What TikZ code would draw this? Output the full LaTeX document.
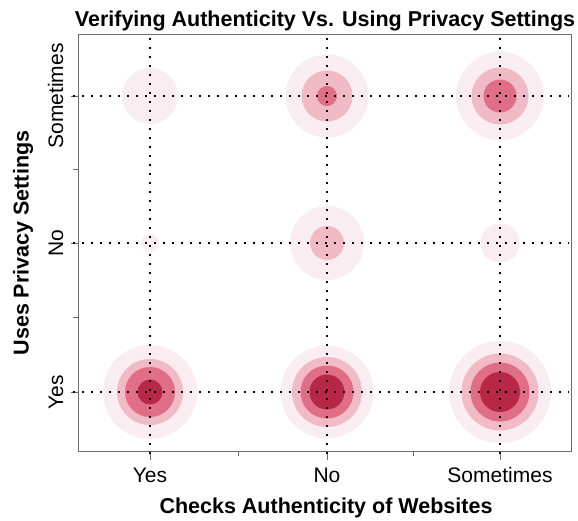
\documentclass[tikz,border=0pt]{standalone}
\usepackage{fontspec}
\setmainfont{Liberation Sans}
\definecolor{lvla}{RGB}{250,237,241}
\definecolor{lvlb}{RGB}{241,186,199}
\definecolor{lvlc}{RGB}{224,110,135}
\definecolor{lvld}{RGB}{182,40,70}
\begin{document}
\begin{tikzpicture}[x=1pt, y=-1pt,
        ticklab/.style={font=\fontsize{21}{25}\selectfont, inner sep=0pt},
        axlab/.style={font=\fontsize{21.5}{25}\selectfont\bfseries, inner sep=0pt},
        guide/.style={line width=2.4pt, dash pattern=on 2.4pt off 6.6pt},
        axisline/.style={draw=black!58, line width=1pt}]
        \useasboundingbox (0,0) rectangle (578,520);

        \foreach \x/\y/\r/\c in {150/392/47/lvla, 150/392/33/lvlb, 150/392/25/lvlc, 150/392/12.5/lvld,
                327/392/46.5/lvla, 327/392/35/lvlb, 327/392/26.5/lvlc, 327/392/17.5/lvld,
                500/392/51/lvla, 500/392/38.5/lvlb, 500/392/29.5/lvlc, 500/392/20/lvld,
                150/243/9/lvla,
                327/243/37/lvla, 327/243/17/lvlb,
                500/243/19.5/lvla,
                150/96/28/lvla,
                327/96/41.5/lvla, 327/96/25.5/lvlb, 327/96/10/lvlc,
                500/96/44/lvla, 500/96/28.5/lvlb, 500/96/16.5/lvlc}
            \fill[\c] (\x,\y) circle (\r pt);

        \draw[axisline] (78,34) rectangle (571,451);
        \foreach \x in {150,327,500} \draw[axisline] (\x,451) -- (\x,460);
        \foreach \x in {238.5,413.5} \draw[axisline] (\x,451) -- (\x,456);
        \foreach \y in {96,243,392} \draw[axisline] (78,\y) -- (71,\y);
        \foreach \y in {169.5,317.5} \draw[axisline] (78,\y) -- (73,\y);

        \foreach \x in {150,327,500} \draw[guide] (\x,38) -- (\x,460);
        \foreach \y in {96,243,392} \draw[guide] (73,\y) -- (569,\y);

        \foreach \x/\t [count=\i] in {150/Yes, 327/No, 500/Sometimes}
            \node[ticklab, anchor=base] (xt\i) at (\x,482) {\t};
        \foreach \y/\t [count=\i] in {392/Yes, 243/No, 96/Sometimes}
            \node[ticklab, anchor=base, rotate=90] (yt\i) at (63,\y) {\t};

        \node[axlab, anchor=base] (title) at (325,26.5) {Verifying Authenticity Vs. Using Privacy Settings};
        \node[axlab, anchor=base] (xlab) at (326,513.5) {Checks Authenticity of Websites};
        \node[axlab, anchor=base, rotate=90] (ylab) at (28.5,243) {Uses Privacy Settings};
        \end{tikzpicture}
\end{document}
